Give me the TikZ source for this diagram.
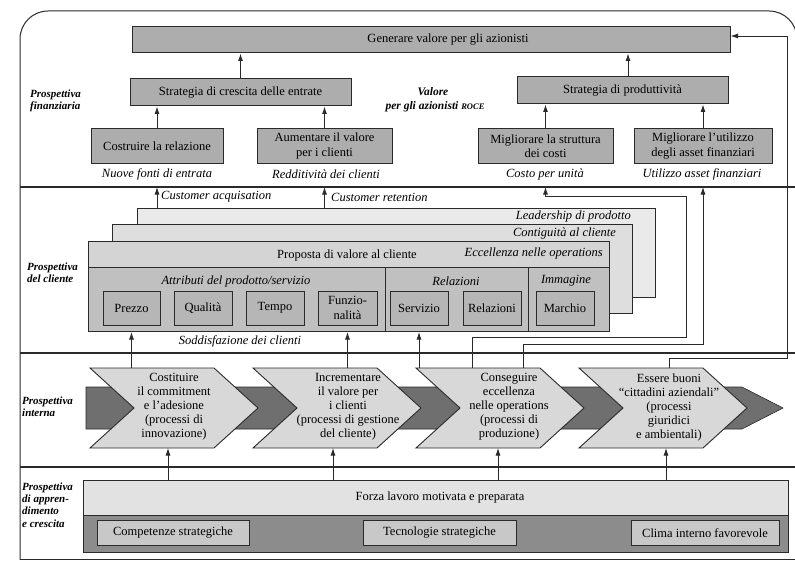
\documentclass[tikz,border=0pt]{standalone}
\usepackage{fontspec}
\setmainfont{Liberation Serif}
\usetikzlibrary{arrows.meta}
\definecolor{finfill}{HTML}{ADADAD}
\definecolor{stthree}{HTML}{EAEAEA}
\definecolor{sttwo}{HTML}{DEDEDE}
\definecolor{headfill}{HTML}{D4D4D4}
\definecolor{lowfill}{HTML}{C0C0C0}
\definecolor{innerfill}{HTML}{B6B6B6}
\definecolor{chevfill}{HTML}{D8D8D8}
\definecolor{bandfill}{HTML}{6F6F6F}
\definecolor{fup}{HTML}{E2E2E2}
\definecolor{flow}{HTML}{8C8C8C}
\definecolor{finner}{HTML}{C8C8C8}
\definecolor{ink}{HTML}{2A2A2A}
\newcommand{\msz}{\fontsize{12.5}{14.5}\selectfont}
\newcommand{\lsz}{\fontsize{11}{12.3}\selectfont\bfseries\itshape}
\begin{document}
\begin{tikzpicture}[x=1pt,y=-1pt,
 arr/.style={-{Latex[length=7.5pt,width=5pt]}, line width=0.85pt, draw=ink},
 fbox/.style={draw=ink, line width=1pt, fill=finfill, inner sep=0pt, align=center, font=\msz},
 ibox/.style={draw=ink, line width=1pt, fill=innerfill, inner sep=0pt, align=center, font=\msz, minimum width=58pt, minimum height=34pt},
 lbox/.style={draw=ink, line width=1pt, fill=finner, inner sep=0pt, align=center, font=\msz, minimum height=25pt},
 stk/.style={draw=ink, line width=1pt, inner sep=0pt, anchor=north west},
 txt/.style={inner sep=0pt, font=\msz, align=center},
 itxt/.style={inner sep=0pt, font=\msz\itshape, align=center},
 plabel/.style={inner sep=0pt, font=\lsz, align=left, anchor=west},
 divider/.style={line width=1.4pt, draw=ink},
 chev/.style={draw=ink, line width=0.9pt, fill=chevfill},
 frame/.style={line width=1pt, draw=ink}
 ]
\useasboundingbox (0,0) rectangle (795,567);
\fill[white] (0,0) rectangle (795,567);
% frame
\begin{scope}
\clip (0,0) rectangle (795,559.6);
\draw[frame, rounded corners=28pt] (20,600) rectangle (797,11);
\end{scope}
\draw[frame] (20,559) -- (795,559);
% dividers
\coordinate (d1) at (20,187);
\coordinate (d2) at (20,353);
\coordinate (d3) at (20,467);
\draw[divider] (d1) -- (795,187);
\draw[divider] (d2) -- (795,353);
\draw[divider] (d3) -- (795,467);

% ---------------- financial perspective
\node[plabel] (pf) at (30,101) {Prospettiva\\finanziaria};
\node[fbox, minimum width=598pt, minimum height=26pt] (gen) at (431,40) {\hspace*{34pt}Generare valore per gli azionisti};
\node[fbox, minimum width=221pt, minimum height=27pt] (scr) at (240.5,92.5) {Strategia di crescita delle entrate};
\node[fbox, minimum width=211pt, minimum height=27pt] (spr) at (622.5,90.5) {Strategia di produttività};
\node[inner sep=0pt, font=\fontsize{11.5}{13}\selectfont\bfseries\itshape] (val1) at (433,92) {Valore};
\node[inner sep=0pt, font=\fontsize{11.5}{13}\selectfont\bfseries\itshape] (val2) at (435,107) {per gli azionisti {\fontsize{8.5}{10}\selectfont ROCE}};
\node[fbox, minimum width=132pt, minimum height=34pt] (cost) at (157,146) {Costruire la relazione};
\node[fbox, minimum width=135pt, minimum height=34pt] (aum) at (324.5,146) {Aumentare il valore\\per i clienti};
\node[fbox, minimum width=135pt, minimum height=34pt] (mig) at (545.5,146) {Migliorare la struttura\\dei costi};
\node[fbox, minimum width=138pt, minimum height=34pt] (util) at (703,146) {Migliorare l’utilizzo\\degli asset finanziari};
\node[itxt] (l1) at (157,174) {Nuove fonti di entrata};
\node[itxt] (l2) at (326,174) {Redditività dei clienti};
\node[itxt] (l3) at (545,174) {Costo per unità};
\node[itxt] (l4) at (702,174) {Utilizzo asset finanziari};
\draw[arr] (scr.north) -- (scr.north |- gen.south);
\draw[arr] ([xshift=5.5pt]spr.north) -- ([xshift=5.5pt]spr.north |- gen.south);
\draw[arr] (cost.north) -- (cost.north |- scr.south);
\draw[arr] (aum.north) -- (aum.north |- scr.south);
\draw[arr] (mig.north) -- (mig.north |- spr.south);
\draw[arr] (util.north) -- (util.north |- spr.south);

% ---------------- customer perspective
\node[plabel] (pc) at (27,273) {Prospettiva\\del cliente};
\node[stk, fill=stthree, minimum width=518pt, minimum height=89pt] (st3) at (137,208) {};
\node[stk, fill=sttwo, minimum width=520pt, minimum height=89pt] (st2) at (112,224) {};
\node[stk, fill=lowfill, minimum width=521pt, minimum height=90pt] (st1) at (88,241) {};
\node[stk, fill=headfill, minimum width=521pt, minimum height=26pt] (head) at (88,241) {};
\draw[ink, line width=1pt] (385,267) -- (385,331);
\draw[ink, line width=1pt] (528,267) -- (528,331);
\node[itxt, anchor=east] (lead) at (631,216) {Leadership di prodotto};
\node[itxt, anchor=east] (cont) at (616,233) {Contiguità al cliente};
\node[txt] (prop) at (347,255) {Proposta di valore al cliente};
\node[itxt, anchor=east] (ecc) at (603,253) {Eccellenza nelle operations};
\node[itxt] (attr) at (236,281) {Attributi del prodotto/servizio};
\node[itxt] (relg) at (456,281) {Relazioni};
\node[itxt] (imm) at (566,281) {Immagine};
\node[ibox, minimum width=57pt] (prezzo) at (131.5,308) {Prezzo};
\node[ibox] (qual) at (203,308) {Qualità};
\node[ibox] (tempo) at (275,308) {Tempo};
\node[ibox, minimum width=59pt] (funz) at (347.5,308) {Funzio-\\nalità};
\node[ibox] (serv) at (419,308) {Servizio};
\node[ibox] (rel) at (492,308) {Relazioni};
\node[ibox] (marc) at (565,308) {Marchio};
\node[itxt] (sodd) at (240,341) {Soddisfazione dei clienti};
\node[itxt, anchor=west] (cacq) at (161,197) {Customer acquisation};
\node[itxt, anchor=west] (cret) at (331,197) {Customer retention};
\draw[arr] (cost.south |- st3.north) -- (cost.south |- d1);
\draw[arr] (aum.south |- st3.north) -- (aum.south |- d1);

% ---------------- internal perspective
\node[plabel] (pi) at (22,407) {Prospettiva\\interna};
\fill[bandfill, draw=ink, line width=0.6pt] (86,387) -- (742,387) -- (783,408) -- (742,429) -- (86,429) -- cycle;
\draw[chev] (90,368) -- (214,368) -- (258,408) -- (214,448) -- (90,448) -- (134,408) -- cycle;
\draw[chev] (253,368) -- (377,368) -- (421,408) -- (377,448) -- (253,448) -- (297,408) -- cycle;
\draw[chev] (416,368) -- (540,368) -- (584,408) -- (540,448) -- (416,448) -- (460,408) -- cycle;
\draw[chev] (579,368) -- (703,368) -- (747,408) -- (703,448) -- (579,448) -- (623,408) -- cycle;
\coordinate (ch1top) at (90,368);
\coordinate (ch2top) at (253,368);
\coordinate (ch3top) at (416,368);
\node[txt, font=\fontsize{12.5}{14}\selectfont] (ch1) at (174,407) {Costituire\\il commitment\\e l’adesione\\(processi di\\innovazione)};
\node[txt, font=\fontsize{12.5}{14}\selectfont] (ch2) at (348,407) {Incrementare\\il valore per\\i clienti\\(processi di gestione\\del cliente)};
\node[txt, font=\fontsize{12.5}{14}\selectfont] (ch3) at (509,407) {Conseguire\\eccellenza\\nelle operations\\(processi di\\produzione)};
\node[txt, font=\fontsize{12.5}{14}\selectfont] (ch4) at (669,407) {Essere buoni\\“cittadini aziendali”\\(processi\\giuridici\\e ambientali)};
\draw[arr] (prezzo.south |- ch1top) -- (prezzo.south |- st1.south);
\draw[arr] (funz.south |- ch2top) -- (funz.south |- st1.south);
\draw[arr] (serv.south |- ch3top) -- (serv.south |- st1.south);
\coordinate (r1a) at (472,368);
\coordinate (r1b) at (686,337);
\coordinate (r1c) at (686,196);
\draw[arr] (r1a) |- (r1b) -- (r1c) -| (mig.south |- d1);
\coordinate (r2a) at (523,368);
\coordinate (r2b) at (703,344);
\draw[arr] (r2a) |- (r2b) -- (util.south |- d1);
\coordinate (r3a) at (669,368);
\coordinate (r3b) at (787,358);
\coordinate (r3c) at (787,36);
\draw[arr] (r3a) |- (r3b) -- (r3c) -- (gen.east |- r3c);

% ---------------- learning and growth
\node[plabel] (pa) at (22,505) {Prospettiva\\di appren-\\dimento\\e crescita};
\node[stk, fill=fup, minimum width=705pt, minimum height=35pt] (forza) at (83,480) {};
\node[stk, fill=flow, minimum width=705pt, minimum height=37pt] (forzab) at (83,515) {};
\node[txt] (forzat) at (440,497) {Forza lavoro motivata e preparata};
\node[lbox, minimum width=152pt] (comp) at (173,532.5) {Competenze strategiche};
\node[lbox, minimum width=153pt] (tecn) at (439.5,532.5) {Tecnologie strategiche};
\node[lbox, minimum width=148pt] (clima) at (705,533) {Clima interno favorevole};
\coordinate (b1) at (168,448);
\coordinate (b2) at (333,448);
\coordinate (b3) at (498,448);
\coordinate (b4) at (666,448);
\draw[arr] (b1 |- forza.north) -- (b1);
\draw[arr] (b2 |- forza.north) -- (b2);
\draw[arr] (b3 |- forza.north) -- (b3);
\draw[arr] (b4 |- forza.north) -- (b4);
\end{tikzpicture}
\end{document}
